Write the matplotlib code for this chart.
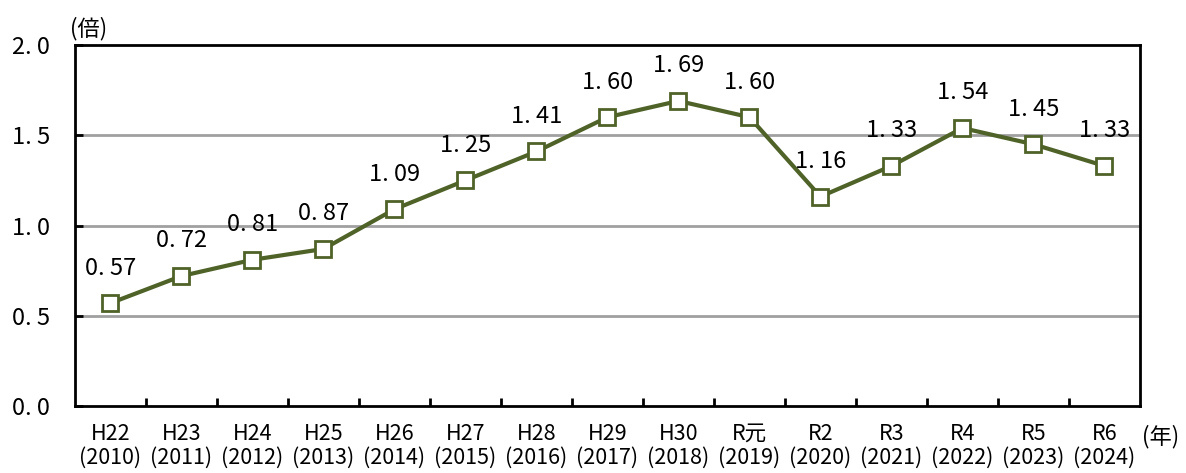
import numpy as np
import matplotlib.pyplot as plt
from matplotlib.ticker import FixedLocator

plt.rcParams['font.family'] = ['Noto Sans CJK JP', 'DejaVu Sans']

# data
era_labels = ['H22', 'H23', 'H24', 'H25', 'H26', 'H27', 'H28', 'H29', 'H30',
              'R元', 'R2', 'R3', 'R4', 'R5', 'R6']
years = ['2010', '2011', '2012', '2013', '2014', '2015', '2016', '2017', '2018',
         '2019', '2020', '2021', '2022', '2023', '2024']
ratio = [0.57, 0.72, 0.81, 0.87, 1.09, 1.25, 1.41, 1.60, 1.69,
         1.60, 1.16, 1.33, 1.54, 1.45, 1.33]
y_ticks = [0.0, 0.5, 1.0, 1.5, 2.0]

olive = '#4F6228'

fig = plt.figure(figsize=(11.86, 4.73), dpi=100)
ax = fig.add_axes([0.0632, 0.1416, 0.8980, 0.7633])

x = np.arange(len(ratio))
ax.plot(x, ratio, color=olive, lw=3, marker='s', ms=11,
        mfc='white', mec=olive, mew=2, zorder=3)

# data labels above the points
for xi, v in zip(x, ratio):
    ax.annotate('%d. %02d' % (int(v), round(v * 100) % 100), (xi, v),
                xytext=(0, 17), textcoords='offset points',
                ha='center', va='bottom', fontsize=17)

ax.set_xlim(-0.5, len(ratio) - 0.5)
ax.set_ylim(0, 2.0)

# gridlines
for g in y_ticks[1:-1]:
    ax.axhline(g, color='#A0A0A0', lw=2, zorder=1)

ax.set_yticks(y_ticks)
ax.set_yticklabels(['%d. %d' % (int(t), round(t * 10) % 10) for t in y_ticks], fontsize=17)
ax.tick_params(axis='y', direction='in', length=6, width=2, pad=18)

ax.set_xticks(x)
ax.set_xticklabels(['%s\n(%s)' % (e, y) for e, y in zip(era_labels, years)],
                   fontsize=15.5, linespacing=1.15)
ax.tick_params(axis='x', which='major', length=0, pad=12)
ax.xaxis.set_minor_locator(FixedLocator(np.arange(0.5, len(ratio) - 1, 1)))
ax.tick_params(axis='x', which='minor', direction='in', length=6, width=2)

for s in ax.spines.values():
    s.set_linewidth(2)
    s.set_color('black')

fig.text(0.059, 0.94, '(倍)', fontsize=16, ha='left', va='center')
fig.text(0.963, 0.078, '(年)', fontsize=16, ha='left', va='center')

fig.savefig('out.png', dpi=100)
